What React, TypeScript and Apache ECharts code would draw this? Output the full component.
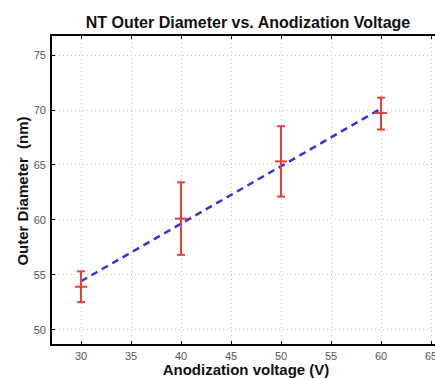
import React, { useEffect, useRef } from "react";
import * as echarts from "echarts";

const voltages = [30, 40, 50, 60];
const meanDiameter = [53.9, 60.1, 65.3, 69.7];
const lowerDiameter = [52.5, 56.8, 62.1, 68.2];
const upperDiameter = [55.3, 63.4, 68.5, 71.1];
const fitVoltage = [30, 60];
const fitDiameter = [54.4, 70.1];

const titleText = "NT Outer Diameter vs. Anodization Voltage";
const xName = "Anodization voltage (V)";
const yName = "Outer Diameter  (nm)";

const FONT = "'Liberation Sans', Arial, Helvetica, sans-serif";

export default function App() {
  const ref = useRef<HTMLDivElement>(null);
  useEffect(() => {
    if (!ref.current) return;
    const chart = echarts.init(ref.current, null, { renderer: "svg" });
    const errData = voltages.map((v, i) => [v, meanDiameter[i], lowerDiameter[i], upperDiameter[i]]);
    const fitData = fitVoltage.map((v, i) => [v, fitDiameter[i]]);
    const red = "#e5413b";
    chart.setOption({
      animation: false,
      backgroundColor: "#fff",
      textStyle: { fontFamily: FONT },
      grid: { left: 51, top: 35, width: 400, height: 310, show: false, containLabel: false, outerBoundsMode: "none" },
      xAxis: [
        {
          type: "value",
          min: 27,
          max: 67,
          splitNumber: 8,
          axisLine: { show: true, onZero: false, lineStyle: { color: "#000", width: 2 } },
          axisTick: { show: true, inside: true, length: 4, lineStyle: { color: "#000", width: 1 } },
          axisLabel: { show: true, showMinLabel: false, showMaxLabel: false, color: "#555", fontSize: 11, margin: 5, fontFamily: FONT },
          splitLine: { show: true, lineStyle: { color: "#c8c8c8", type: [1, 3], width: 1 } },
        },
        {
          type: "value",
          position: "top",
          min: 27,
          max: 67,
          splitNumber: 8,
          axisLine: { show: true, onZero: false, lineStyle: { color: "#000", width: 2 } },
          axisTick: { show: true, inside: true, length: 4, lineStyle: { color: "#000", width: 1 } },
          axisLabel: { show: false },
          splitLine: { show: false },
        },
      ],
      yAxis: {
        type: "value",
        min: 48.6,
        max: 76.8,
        splitNumber: 5,
        axisLine: { show: true, onZero: false, lineStyle: { color: "#000", width: 2 } },
        axisTick: { show: true, inside: true, length: 4, lineStyle: { color: "#000", width: 1 } },
        axisLabel: { show: true, showMinLabel: false, showMaxLabel: false, color: "#555", fontSize: 11, margin: 5, fontFamily: FONT },
        splitLine: { show: true, lineStyle: { color: "#c8c8c8", type: [1, 3], width: 1 } },
      },
      graphic: [
        {
          type: "text",
          x: 248,
          y: 22,
          style: { text: titleText, align: "center", verticalAlign: "middle", fontSize: 16, fontWeight: "bold", fontFamily: FONT, fill: "#111" },
        },
        {
          type: "text",
          x: 246,
          y: 369.5,
          style: { text: xName, align: "center", verticalAlign: "middle", fontSize: 15, fontWeight: "bold", fontFamily: FONT, fill: "#111" },
        },
        {
          type: "text",
          x: 22,
          y: 191,
          rotation: Math.PI / 2,
          style: { text: yName, align: "center", verticalAlign: "middle", fontSize: 15, fontWeight: "bold", fontFamily: FONT, fill: "#111" },
        },
      ],
      series: [
        {
          type: "line",
          data: fitData,
          symbol: "none",
          lineStyle: { color: "#3434dc", width: 2.5, type: [7, 5] },
          z: 2,
        },
        {
          type: "custom",
          data: errData,
          z: 3,
          renderItem: (params: any, api: any) => {
            const x = api.value(0);
            const top = api.coord([x, api.value(3)]);
            const bot = api.coord([x, api.value(2)]);
            const mid = api.coord([x, api.value(1)]);
            const style = { stroke: red, lineWidth: 2 };
            const cap = 4;
            const mk = 6;
            return {
              type: "group",
              children: [
                { type: "line", shape: { x1: top[0], y1: top[1], x2: bot[0], y2: bot[1] }, style },
                { type: "line", shape: { x1: top[0] - cap, y1: top[1], x2: top[0] + cap, y2: top[1] }, style },
                { type: "line", shape: { x1: bot[0] - cap, y1: bot[1], x2: bot[0] + cap, y2: bot[1] }, style },
                { type: "line", shape: { x1: mid[0] - mk, y1: mid[1], x2: mid[0] + mk, y2: mid[1] }, style },
              ],
            };
          },
        },
      ],
    });
    return () => chart.dispose();
  }, []);
  return <div ref={ref} style={{ width: 435, height: 379, position: "absolute", left: 0, top: 0 }} />;
}
